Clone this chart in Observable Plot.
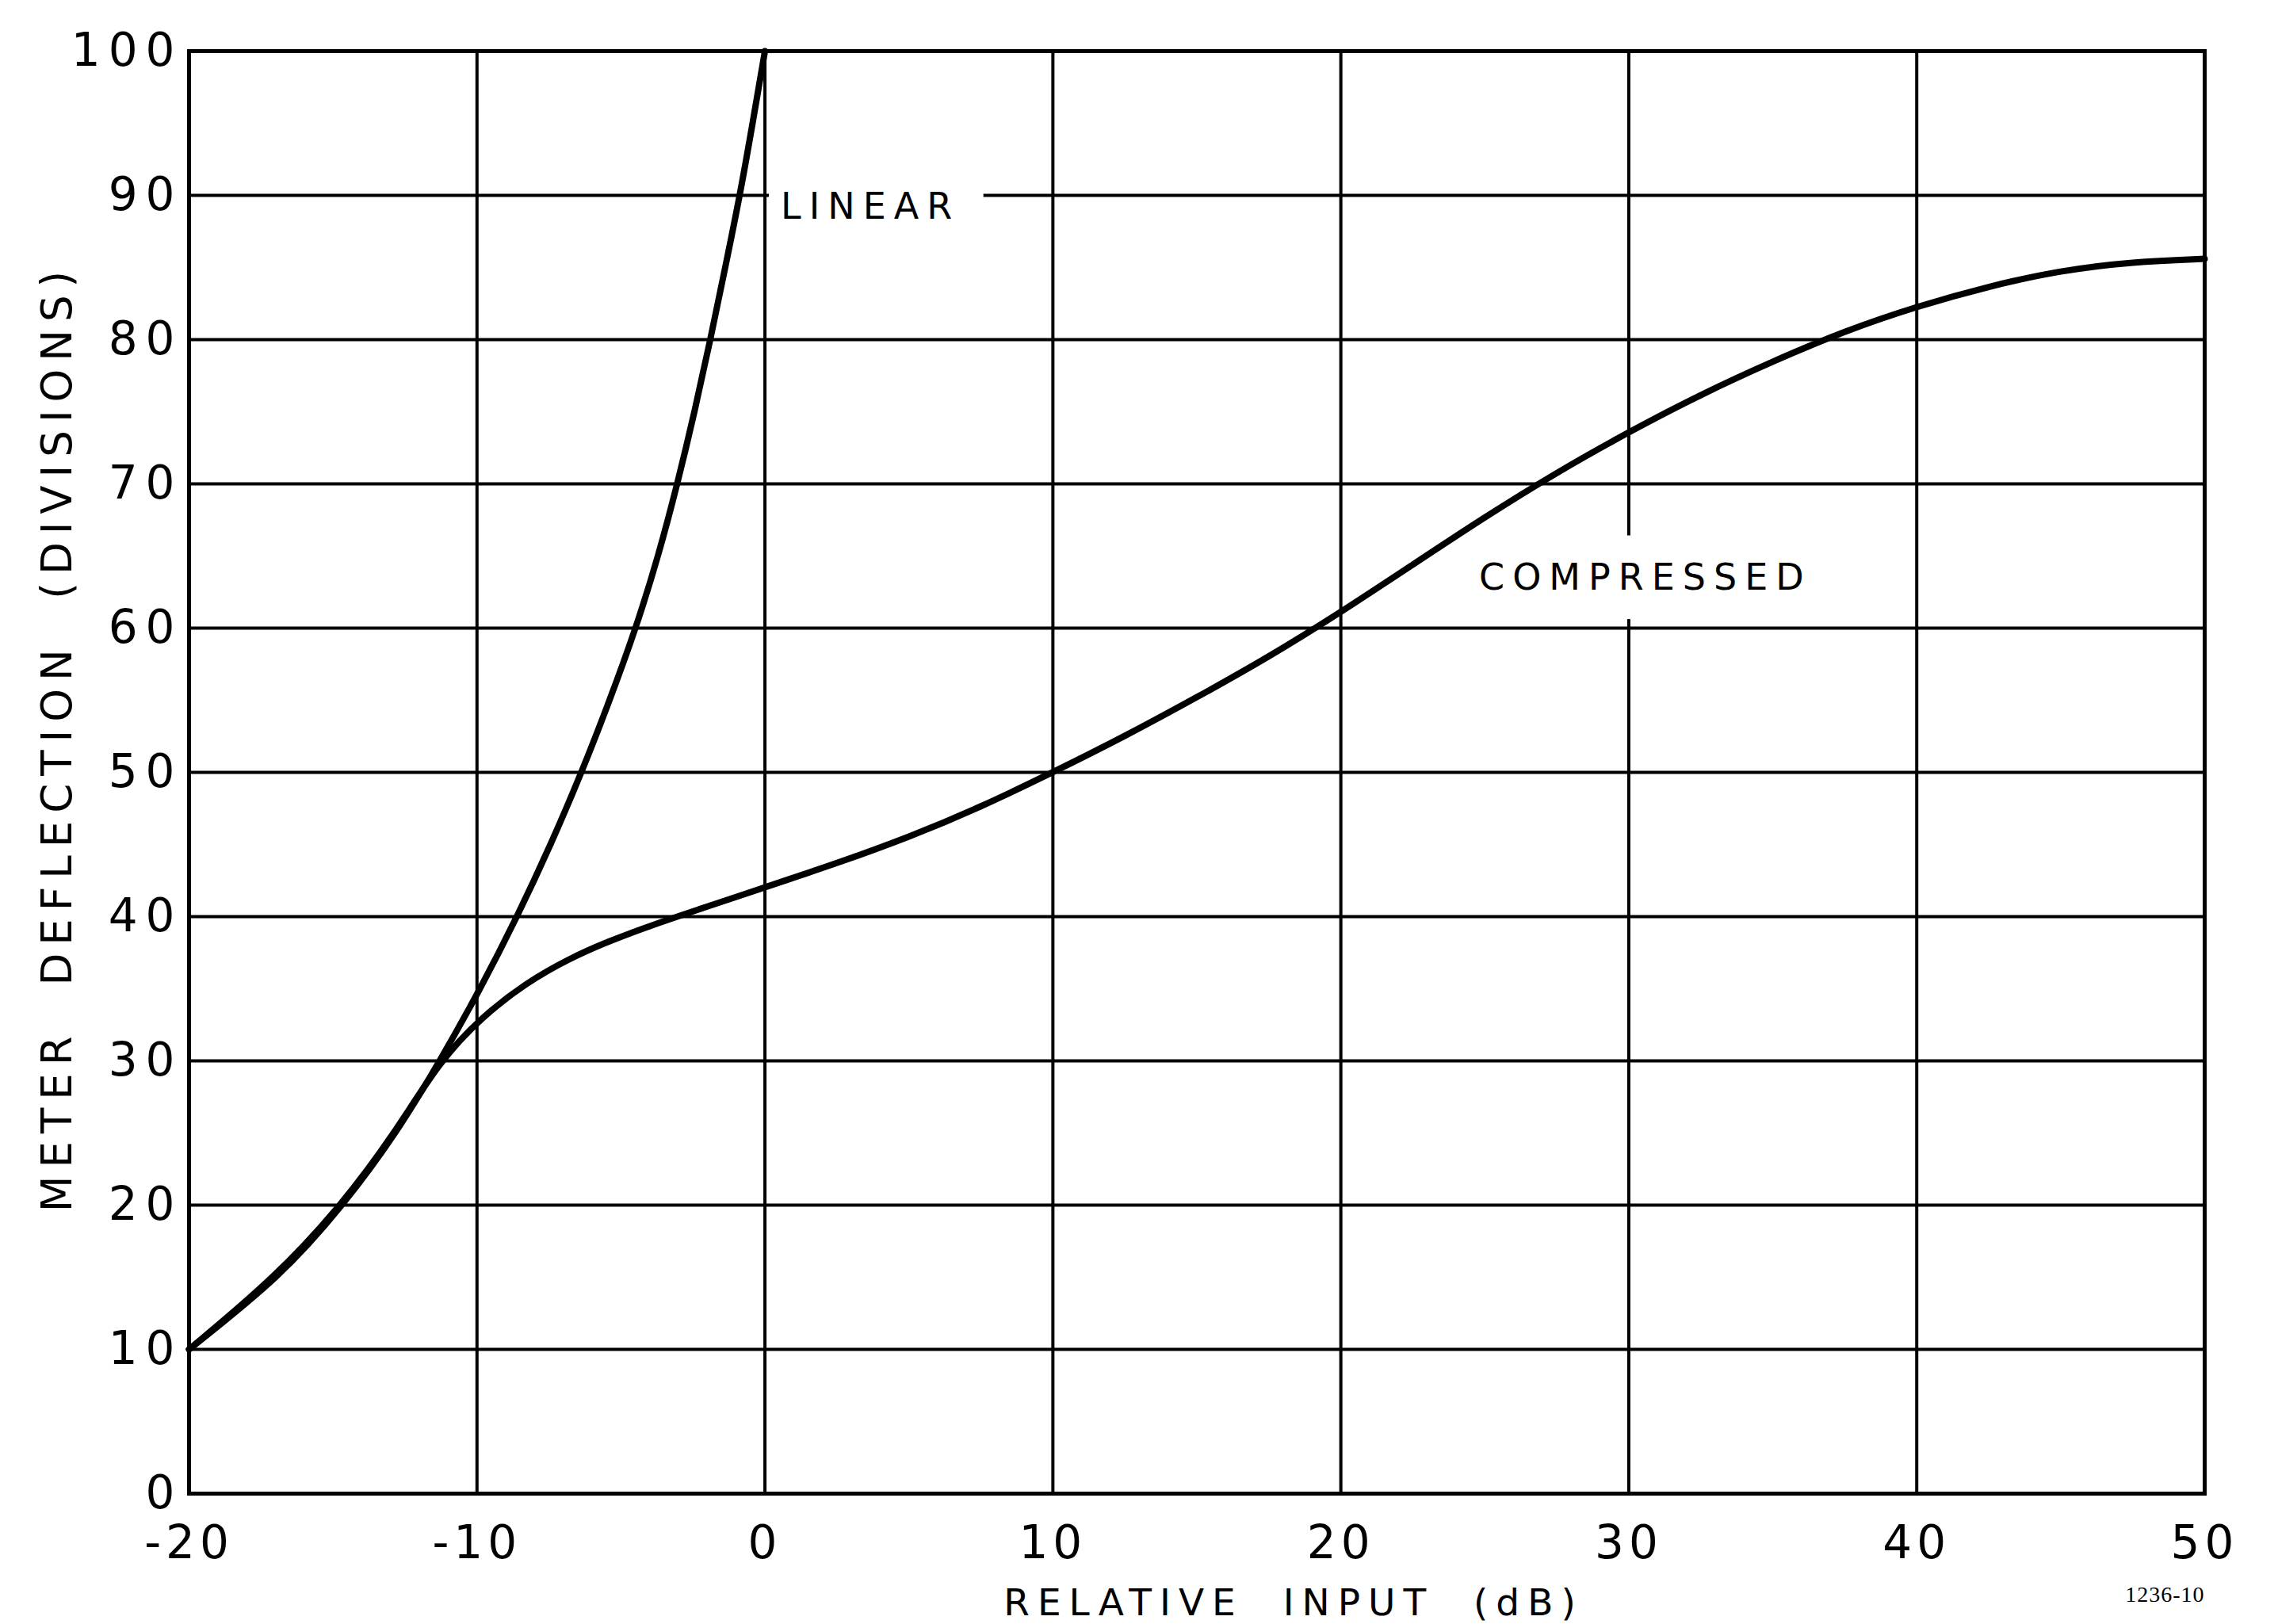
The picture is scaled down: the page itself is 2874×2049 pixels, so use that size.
<!DOCTYPE html>
<html>
<head>
<meta charset="utf-8">
<script src="https://cdn.jsdelivr.net/npm/d3@7"></script>
<script src="https://cdn.jsdelivr.net/npm/@observablehq/plot@0.6"></script>
<style>
  html, body { margin: 0; padding: 0; background: #fff; }
  svg text { letter-spacing: 10px; }
  g[aria-label="x-axis tick label"] text { letter-spacing: 6px; }
  g[font-family*="Serif"] text { letter-spacing: 1px; }
</style>
</head>
<body>
<div id="chart"></div>
<script>
// ---- data ----
const linearX = [-20, -17.0, -14.7, -12.85, -11.3, -9.9, -8.62, -7.45, -6.38, -5.4, -4.5, -3.72, -3.05, -2.45, -1.9, -1.38, -0.88, -0.43, 0];
const linearY = [10, 15, 20, 25, 30, 35, 40, 45, 50, 55, 60, 65, 70, 75, 80, 85, 90, 95, 100];

const compX = [-20, -17.0, -14.7, -12.85, -11.3, -9.8, -8.3, -6.8, -5.3, -3.8, -2.3, -0.8, 0.7, 2.5, 5, 7.5, 10, 12.5, 15, 17.5, 20, 22.5, 25, 27.5, 30, 32.5, 35, 37.5, 40, 42.5, 45, 47.5, 50];
const compY = [10, 15, 20, 25, 30, 33.1, 35.4, 37.1, 38.4, 39.5, 40.5, 41.5, 42.5, 43.7, 45.5, 47.6, 50, 52.5, 55.2, 58, 61.1, 64.4, 67.7, 70.8, 73.6, 76.2, 78.5, 80.6, 82.3, 83.7, 84.8, 85.4, 85.6];

const xTicks = [-20, -10, 0, 10, 20, 30, 40, 50];
const yTicks = [0, 10, 20, 30, 40, 50, 60, 70, 80, 90, 100];

const curveLabels = ["LINEAR", "COMPRESSED"];
const curveLabelX = [0.55, 24.8];
const curveLabelY = [89.2, 63.5];
// white gaps cut into the grid behind the labels
const gapX1 = [0.15, 24.4];
const gapX2 = [7.6, 36.9];
const gapY1 = [86.2, 60.6];
const gapY2 = [94.2, 66.4];

const xLabel = "RELATIVE  INPUT  (dB)";
const yLabel = "METER  DEFLECTION  (DIVISIONS)";
const figNumber = "1236-10";

// ---- build tables ----
const linearRows = linearX.map((x, i) => ({x, y: linearY[i]}));
const compRows = compX.map((x, i) => ({x, y: compY[i]}));
const labelRows = curveLabels.map((t, i) => ({t, x: curveLabelX[i], y: curveLabelY[i]}));
const gapRows = gapX1.map((x1, i) => ({x1, x2: gapX2[i], y1: gapY1[i], y2: gapY2[i]}));

const fmt = d => String(d);

const chart = Plot.plot({
  width: 2874,
  height: 2049,
  marginLeft: 238,
  marginRight: 93,
  marginTop: 64,
  marginBottom: 165,
  style: {fontFamily: "DejaVu Sans", color: "#000", background: "#fff"},
  x: {domain: [-20, 50]},
  y: {domain: [0, 100]},
  marks: [
    Plot.gridX(xTicks, {stroke: "#000", strokeOpacity: 1, strokeWidth: 4}),
    Plot.gridY(yTicks, {stroke: "#000", strokeOpacity: 1, strokeWidth: 4}),
    Plot.rect(gapRows, {x1: "x1", x2: "x2", y1: "y1", y2: "y2", fill: "#fff"}),
    Plot.frame({stroke: "#000", strokeWidth: 5}),
    Plot.line(linearRows, {x: "x", y: "y", curve: "natural", stroke: "#000", strokeWidth: 8}),
    Plot.line(compRows, {x: "x", y: "y", curve: "basis", stroke: "#000", strokeWidth: 8}),
    Plot.text(labelRows, {x: "x", y: "y", text: "t", textAnchor: "start", fontSize: 46, fill: "#000"}),
    Plot.axisX(xTicks, {tickSize: 0, tickPadding: 40, fontSize: 58, label: null, tickFormat: fmt, fill: "#000"}),
    Plot.axisY(yTicks, {tickSize: 0, tickPadding: 8, fontSize: 58, label: null, tickFormat: fmt, fill: "#000"}),
    Plot.text([xLabel], {frameAnchor: "bottom", textAnchor: "middle", dx: 122, dy: 138, fontSize: 47, fill: "#000", lineAnchor: "middle"}),
    Plot.text([yLabel], {frameAnchor: "left", textAnchor: "middle", dx: -165, dy: -44, rotate: -90, fontSize: 53, fill: "#000", lineAnchor: "middle"}),
    Plot.text([figNumber], {frameAnchor: "bottom-right", dy: 128, textAnchor: "end", fontSize: 28, fontFamily: "Liberation Serif", fill: "#000", lineAnchor: "middle"})
  ]
});
document.getElementById("chart").appendChild(chart);
</script>
</body>
</html>
